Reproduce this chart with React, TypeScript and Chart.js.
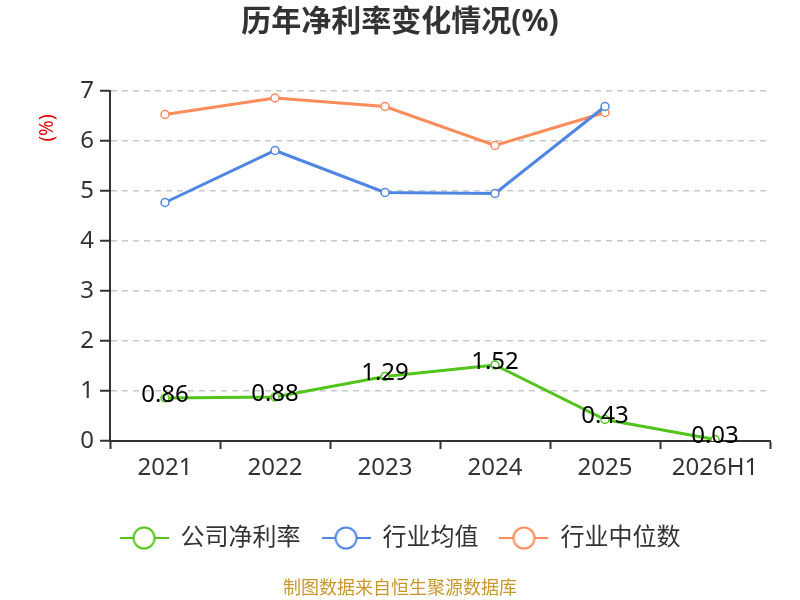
import { useEffect, useRef } from 'react';
import Chart from 'chart.js/auto';

const years = ['2021', '2022', '2023', '2024', '2025', '2026H1'];
const companyMargin = [0.86, 0.88, 1.29, 1.52, 0.43, 0.03];
const industryAvg = [4.77, 5.81, 4.97, 4.95, 6.69, null];
const industryMedian = [6.53, 6.86, 6.69, 5.91, 6.57, null];

const GREEN = '#52c41a';
const BLUE = '#4f86e3';
const ORANGE = '#fd8c5a';
const FONT = '"Noto Sans", "Noto Sans CJK SC", sans-serif';

// legend marker: short line with a hollow circle in the middle
function makeMarker(color: string) {
  const c = document.createElement('canvas');
  c.width = 49;
  c.height = 26;
  const ctx = c.getContext('2d')!;
  ctx.strokeStyle = color;
  ctx.lineWidth = 2;
  ctx.beginPath();
  ctx.moveTo(0, 13);
  ctx.lineTo(49, 13);
  ctx.stroke();
  ctx.beginPath();
  ctx.arc(24.5, 13, 10.5, 0, Math.PI * 2);
  ctx.fillStyle = '#fff';
  ctx.fill();
  ctx.stroke();
  return c;
}

const extrasPlugin = {
  id: 'extras',
  afterDatasetsDraw(chart: Chart) {
    const { ctx, chartArea } = chart;
    ctx.save();
    // value labels for company series
    const meta = chart.getDatasetMeta(0);
    ctx.font = `24px ${FONT}`;
    ctx.fillStyle = '#000';
    ctx.textAlign = 'center';
    ctx.textBaseline = 'middle';
    meta.data.forEach((pt, i) => {
      ctx.fillText(companyMargin[i].toFixed(2), pt.x, pt.y - 3);
    });
    // y unit
    ctx.translate(chartArea.left - 62, chartArea.top + 37);
    ctx.rotate(-Math.PI / 2);
    ctx.font = `19px ${FONT}`;
    ctx.fillStyle = '#e00000';
    ctx.fillText('(%)', 0, 0);
    ctx.restore();
    // footer
    ctx.save();
    ctx.font = `18px ${FONT}`;
    ctx.fillStyle = '#c9972b';
    ctx.textAlign = 'center';
    ctx.textBaseline = 'middle';
    ctx.fillText('制图数据来自恒生聚源数据库', chart.width / 2, 589);
    ctx.restore();
  },
};

export default function App() {
  const canvasRef = useRef<HTMLCanvasElement | null>(null);

  useEffect(() => {
    document.body.style.margin = '0';
    const canvas = canvasRef.current;
    if (!canvas) return;

    const line = (color: string) => ({
      borderColor: color,
      backgroundColor: color,
      pointBackgroundColor: '#fff',
      pointBorderColor: color,
      pointBorderWidth: 1.5,
      pointRadius: 4,
      pointStyle: 'circle' as const,
      borderWidth: 3,
      tension: 0,
    });

    const chart = new Chart(canvas, {
      type: 'line',
      data: {
        labels: years,
        datasets: [
          { label: '公司净利率', data: companyMargin, ...line(GREEN) },
          { label: '行业均值', data: industryAvg, ...line(BLUE) },
          { label: '行业中位数', data: industryMedian, ...line(ORANGE) },
        ],
      },
      options: {
        responsive: false,
        animation: false,
        layout: { padding: { left: 0, right: 0, top: 0, bottom: 40 } },
        plugins: {
          title: {
            display: true,
            text: '历年净利率变化情况(%)',
            color: '#333',
            font: { family: FONT, size: 30, weight: 'bold' },
            padding: { top: 4, bottom: 51 },
          },
          legend: {
            position: 'bottom',
            labels: {
              usePointStyle: true,
              pointStyleWidth: 49,
              boxHeight: 24,
              padding: 21,
              color: '#333',
              font: { family: FONT, size: 24 },
              generateLabels: (c) =>
                c.data.datasets.map((ds, i) => ({
                  text: ds.label as string,
                  fillStyle: '#fff',
                  strokeStyle: ds.borderColor as string,
                  lineWidth: 2,
                  pointStyle: makeMarker(ds.borderColor as string),
                  hidden: false,
                  datasetIndex: i,
                  fontColor: '#333',
                })),
            },
          },
          tooltip: { enabled: false },
        },
        scales: {
          x: {
            offset: true,
            afterFit: (s) => {
              s.height = 64;
            },
            grid: {
              offset: true,
              drawOnChartArea: false,
              drawTicks: true,
              tickLength: 8,
              tickColor: '#333',
              tickWidth: 2,
            },
            border: { color: '#333', width: 2 },
            ticks: { color: '#333', font: { family: FONT, size: 24 }, padding: 5 },
          },
          y: {
            min: 0,
            max: 7,
            afterFit: (s) => {
              s.width = 110;
            },
            grid: {
              color: '#c8c8c8',
              lineWidth: 1.5,
              tickColor: '#333',
              tickLength: 10,
              tickWidth: 2,
              tickBorderDash: [],
            },
            border: { color: '#333', width: 2, dash: [6, 5] },
            ticks: { stepSize: 1, color: '#333', font: { family: FONT, size: 24 }, padding: 6 },
          },
          // empty right-side spacer so the chart area ends at 770 while legend/title stay centred
          spacer: {
            type: 'linear',
            position: 'right',
            min: 0,
            max: 7,
            grid: { display: false, drawTicks: false },
            border: { display: false },
            ticks: { display: false },
            afterFit: (s) => {
              s.width = 30;
            },
          },
        },
      },
      plugins: [extrasPlugin],
    });

    return () => chart.destroy();
  }, []);

  return <canvas ref={canvasRef} width={800} height={600} style={{ display: 'block' }} />;
}
